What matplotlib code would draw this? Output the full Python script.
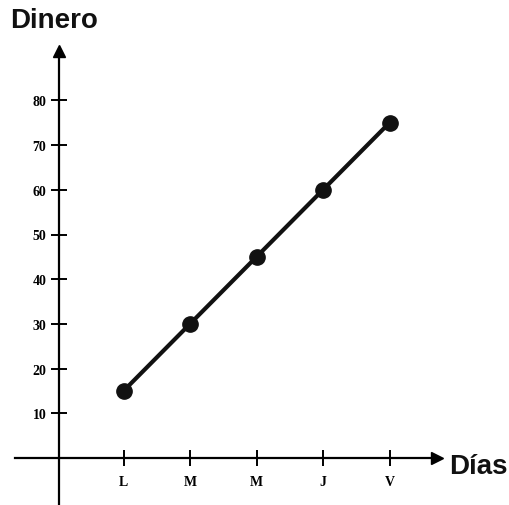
import matplotlib
matplotlib.use("Agg")
import matplotlib.pyplot as plt

days = ["L", "M", "M", "J", "V"]
money = [15, 30, 45, 60, 75]
yticks = [10, 20, 30, 40, 50, 60, 70, 80]

W, H = 510, 506
fig = plt.figure(figsize=(W / 100, H / 100), dpi=100)
ax = fig.add_axes([0, 0, 1, 1])

# pixel mapping: x origin at 57px, 66.5 px per day; y origin at 459px, 4.47 px per unit
x0, sx = 57.0, 66.5
y0, sy = 459.0, 4.47
ax.set_xlim((0 - x0) / sx, (W - x0) / sx)
ax.set_ylim((y0 - H) / sy, y0 / sy)

xs = list(range(1, len(days) + 1))

for s in ["top", "right"]:
    ax.spines[s].set_visible(False)
ax.spines["left"].set_position(("data", 0.03))
ax.spines["bottom"].set_position(("data", 0))
ax.spines["left"].set_linewidth(1.6)
ax.spines["bottom"].set_linewidth(1.6)
ax.spines["left"].set_bounds((y0 - 505) / sy, (y0 - 55) / sy)
ax.spines["bottom"].set_bounds((15 - x0) / sx, (433 - x0) / sx)

# arrow heads
ax.plot([(59 - x0) / sx], [(y0 - 52) / sy], marker="^", color="black", markersize=8, clip_on=False)
ax.plot([(437 - x0) / sx], [0], marker=">", color="black", markersize=8, clip_on=False)

ax.set_xticks(xs)
ax.set_xticklabels(days)
ax.set_yticks(yticks)
ax.tick_params(axis="both", direction="inout", length=12, width=1.4, labelsize=10)
ax.tick_params(axis="x", pad=6)
ax.tick_params(axis="y", pad=3)
for lab in ax.get_xticklabels() + ax.get_yticklabels():
    lab.set_fontfamily("Liberation Serif")
    lab.set_fontweight("bold")

ax.plot(xs, money, color="#111111", linewidth=3, marker="o", markersize=11,
        markerfacecolor="#111111", zorder=3)

fig.text(10 / W, 1 - 21 / H, "Dinero", fontsize=20, fontweight="bold",
         family="Liberation Sans", va="center", ha="left", color="#111111")
fig.text(449 / W, 1 - 467 / H, "Días", fontsize=20, fontweight="bold",
         family="Liberation Sans", va="center", ha="left", color="#111111")

fig.savefig("out.png", dpi=100)
